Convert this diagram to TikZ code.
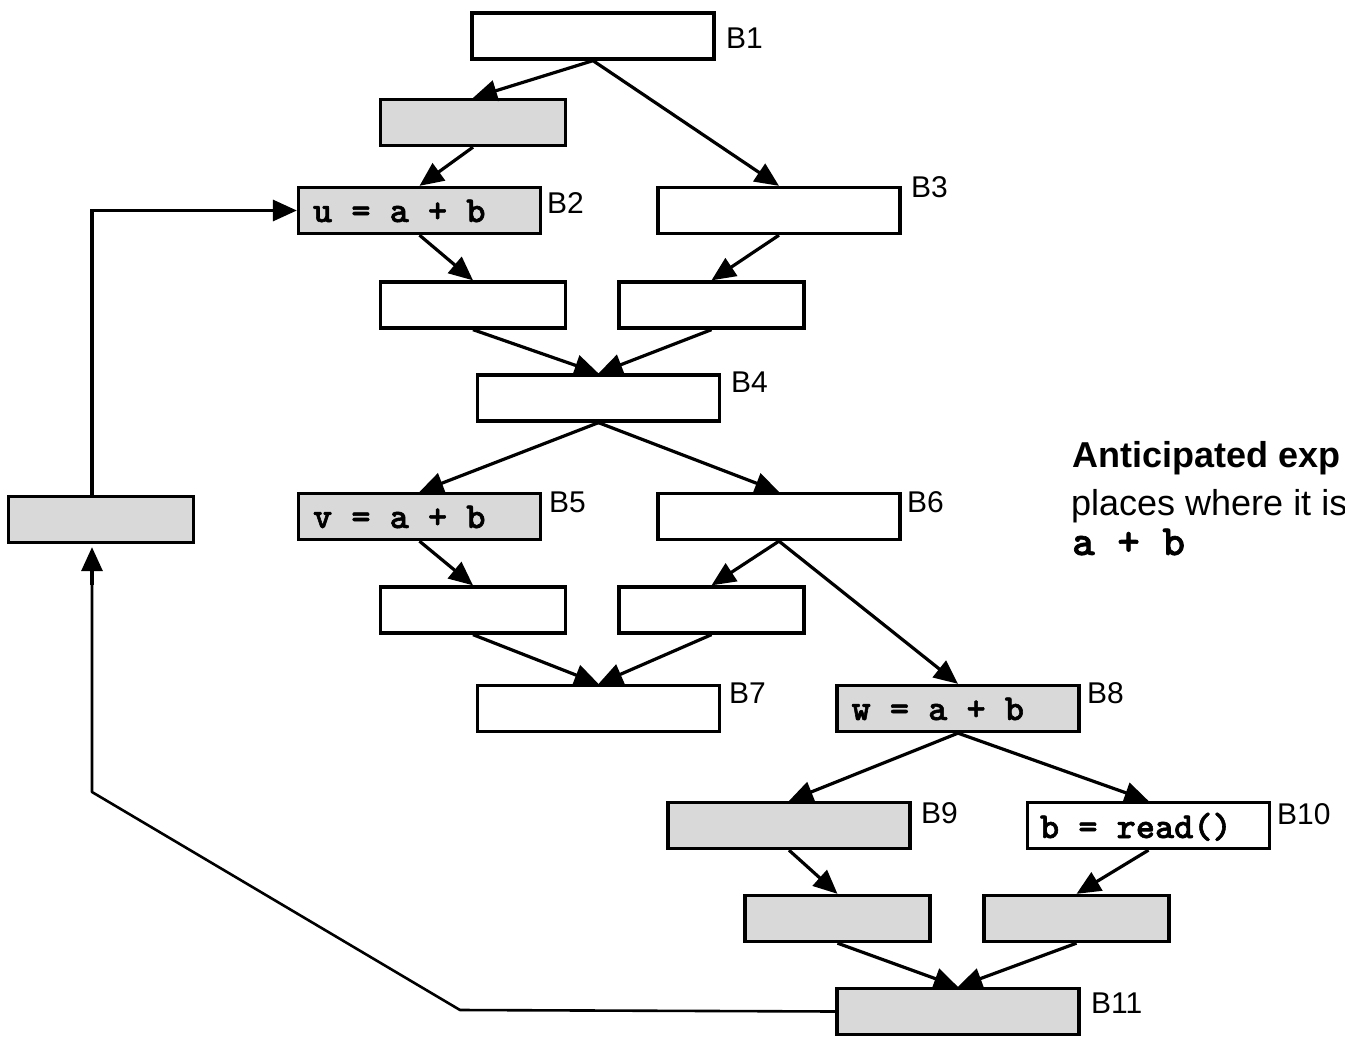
\documentclass[tikz,border=0pt]{standalone}
\usepackage{fontspec}
\setmainfont{Liberation Sans}
\newfontfamily\codefont{lmmonolt10-bold.otf}[FakeBold=1.6]
\usetikzlibrary{arrows.meta}
\definecolor{blkgray}{HTML}{D9D9D9}
\begin{document}
\begin{tikzpicture}[x=1pt,y=-1pt,
  blk/.style={draw=black, line width=3.3pt, fill=white, inner sep=0pt,
    minimum width=242pt, minimum height=46pt},
  sblk/.style={blk, minimum width=185pt},
  gray/.style={fill=blkgray},
  src/.style={anchor=base west, inner sep=0pt,
    font=\fontsize{36.5pt}{40pt}\selectfont\codefont},
  tag/.style={anchor=base west, inner sep=0pt,
    font=\fontsize{30pt}{34pt}\selectfont},
  note/.style={anchor=base west, inner sep=0pt,
    font=\fontsize{36pt}{42pt}\selectfont},
  arr/.style={line width=3.2pt, -{Triangle[length=24pt,width=21pt]}},
  loopline/.style={line width=2.6pt}]

\useasboundingbox (0,0) rectangle (1345,1039);
\clip (0,0) rectangle (1345,1039);

% basic blocks
\node[blk] (b1) at (593,36) {};
\node[sblk,gray] (p1) at (473,122.5) {};
\node[blk,gray] (b2) at (419.5,210.5) {};
\node[blk] (b3) at (779,210.5) {};
\node[sblk] (c1) at (473,305) {};
\node[sblk] (c2) at (711.5,305) {};
\node[blk] (b4) at (598.5,398) {};
\node[blk,gray] (b5) at (419.5,516.5) {};
\node[blk] (b6) at (779,516.5) {};
\node[sblk] (d1) at (473,610) {};
\node[sblk] (d2) at (711.5,610) {};
\node[blk] (b7) at (598.5,708.5) {};
\node[blk,gray] (b8) at (958,708.5) {};
\node[blk,gray] (b9) at (789,825.5) {};
\node[blk] (b10) at (1148.5,825.5) {};
\node[sblk,gray] (e1) at (837.5,918.5) {};
\node[sblk,gray] (e2) at (1076.5,918.5) {};
\node[blk,gray] (b11) at (958,1011.5) {};
\node[sblk,gray] (lp) at (101,519.5) {};

% statements inside the blocks
\node[src] (s2) at ([xshift=16pt,yshift=-11.5pt]b2.west) {u = a + b};
\node[src] (s5) at ([xshift=16pt,yshift=-11.5pt]b5.west) {v = a + b};
\node[src] (s8) at ([xshift=16pt,yshift=-11.5pt]b8.west) {w = a + b};
\node[src] (s10) at ([xshift=14pt,yshift=-12.5pt]b10.west) {b = read()};

% block labels
\node[tag] (t1) at (726,48) {B1};
\node[tag] (t2) at (547,213) {B2};
\node[tag] (t3) at (911,197) {B3};
\node[tag] (t4) at (731,392) {B4};
\node[tag] (t5) at (549,512) {B5};
\node[tag] (t6) at (907,512) {B6};
\node[tag] (t7) at (729,703) {B7};
\node[tag] (t8) at (1087,703) {B8};
\node[tag] (t9) at (921,823) {B9};
\node[tag] (t10) at (1277,824) {B10};
\node[tag] (t11) at (1091,1013) {B11};

% side note
\node[note, font=\fontsize{36pt}{42pt}\selectfont\bfseries] (n1) at (1072,467) {Anticipated exp};
\node[note] (n2) at (1071,515) {places where it is};
\node[note, font=\fontsize{43pt}{48pt}\selectfont\codefont] (n3) at (1072,555) {a + b};

% control-flow edges
\draw[arr] (b1.south) -- (p1.north);
\draw[arr] (b1.south) -- (b3.north);
\draw[arr] (p1.south) -- (b2.north);
\draw[arr] (b2.south) -- (c1.north);
\draw[arr] (b3.south) -- (c2.north);
\draw[arr] (c1.south) -- (b4.north);
\draw[arr] (c2.south) -- (b4.north);
\draw[arr] (b4.south) -- (b5.north);
\draw[arr] (b4.south) -- (b6.north);
\draw[arr] (b5.south) -- (d1.north);
\draw[arr] (b6.south) -- (d2.north);
\draw[arr] (b6.south) -- (b8.north);
\draw[arr] (d1.south) -- (b7.north);
\draw[arr] (d2.south) -- (b7.north);
\draw[arr] (b8.south) -- (b9.north);
\draw[arr] (b8.south) -- (b10.north);
\draw[arr] (b9.south) -- (e1.north);
\draw[arr] (b10.south) -- (e2.north);
\draw[arr] (e1.south) -- (b11.north);
\draw[arr] (e2.south) -- (b11.north);

% back edge from B11 round to B2
\coordinate (k1) at (460,1010);
\coordinate (k2) at (92,792);
\draw[loopline, line join=round] (b11.west) -- (k1) -- (k2) -- (k2 |- 0,575);
\draw[arr, shorten >=3pt] (k2 |- 0,585) -- (k2 |- lp.south);
\draw[arr] (k2 |- lp.north) |- (b2.west);
\end{tikzpicture}
\end{document}
